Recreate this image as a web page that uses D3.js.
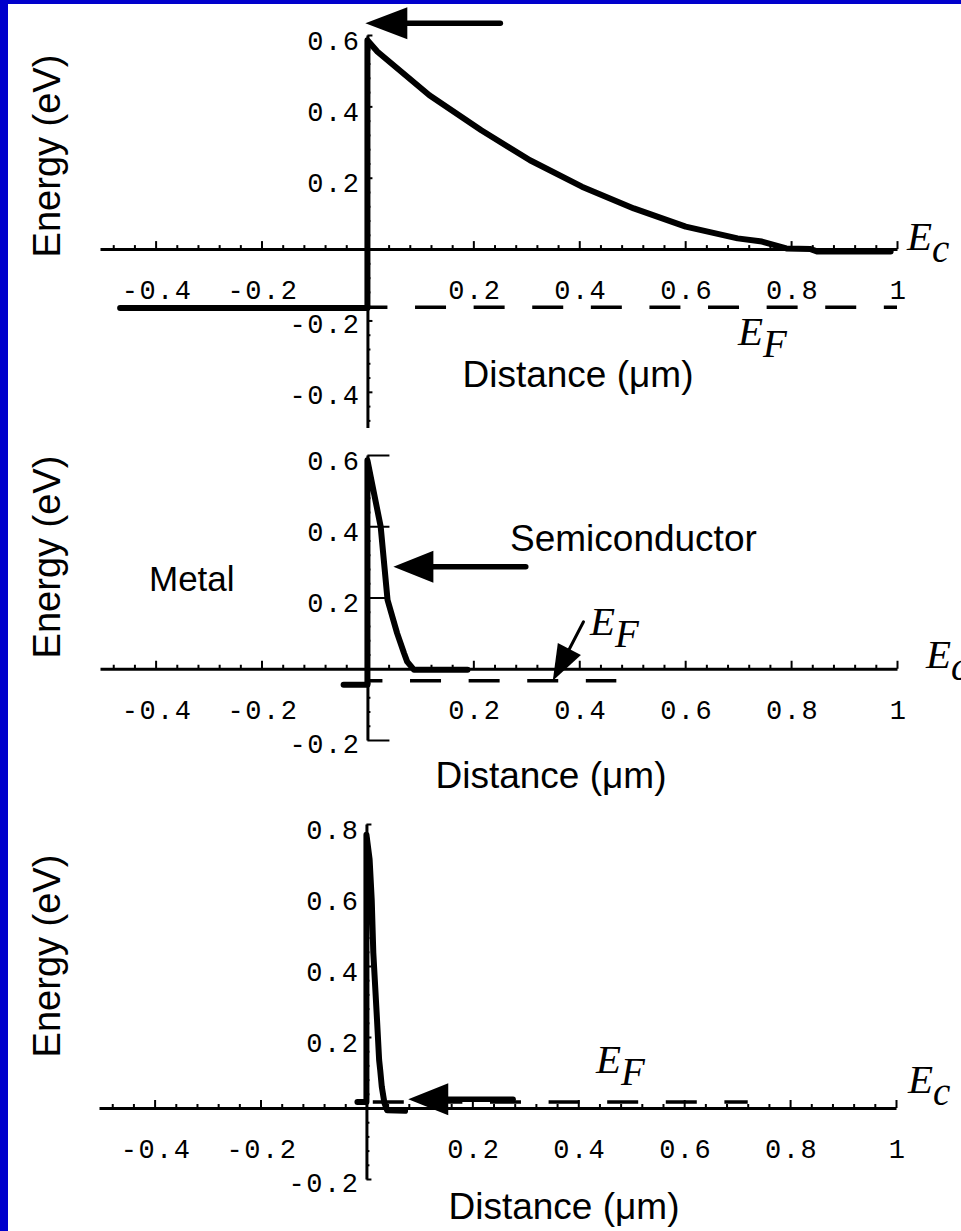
<!DOCTYPE html>
<html><head><meta charset="utf-8">
<script src="https://cdn.jsdelivr.net/npm/d3@7"></script>
<style>body{margin:0;background:#fff;}svg{display:block;}</style>
</head><body>
<svg id="c" width="961" height="1231"></svg>
<script>
// ---------------- data ----------------
const xTickValues = [-0.4, -0.2, 0.2, 0.4, 0.6, 0.8, 1];
const xTickLabels = ["-0.4", "-0.2", "0.2", "0.4", "0.6", "0.8", "1"];

const yTicks1 = [0.6, 0.4, 0.2, -0.2, -0.4];
const yTickLabels1 = ["0.6", "0.4", "0.2", "-0.2", "-0.4"];
const yTicks2 = [0.6, 0.4, 0.2, -0.2];
const yTickLabels2 = ["0.6", "0.4", "0.2", "-0.2"];
const yTicks3 = [0.8, 0.6, 0.4, 0.2, -0.2];
const yTickLabels3 = ["0.8", "0.6", "0.4", "0.2", "-0.2"];

// conduction band (metal Fermi level -> barrier -> band bending)
const band1X = [-0.467, 0, 0, 0.019, 0.117, 0.215, 0.307, 0.405, 0.503, 0.601, 0.699, 0.745, 0.791, 0.837, 0.850, 0.988];
const band1Y = [-0.165, -0.165, 0.585, 0.553, 0.431, 0.333, 0.249, 0.175, 0.114, 0.063, 0.030, 0.021, 0.002, 0.000, -0.007, -0.007];
const fermi1X = [0, 1.0];
const fermi1Y = [-0.163, -0.163];

const band2X = [-0.045, 0, 0, 0.025, 0.038, 0.056, 0.069, 0.075, 0.088, 0.189];
const band2Y = [-0.045, -0.045, 0.585, 0.399, 0.193, 0.100, 0.044, 0.020, -0.003, -0.003];
const fermi2X = [0, 0.47];
const fermi2Y = [-0.034, -0.034];

const band3X = [-0.017, 0, 0, 0.006, 0.010, 0.013, 0.020, 0.024, 0.026, 0.029, 0.034, 0.039, 0.073];
const band3Y = [0.017, 0.017, 0.770, 0.700, 0.586, 0.437, 0.248, 0.135, 0.107, 0.060, 0.014, -0.006, -0.008];
const fermi3X = [0.012, 0.72];
const fermi3Y = [0.017, 0.017];

// annotation arrows: [tailX, tailY, tipX, tipY] in data units
const arrow1 = [0.251, 0.633, -0.004, 0.633];
const arrowSemi = [0.299, 0.286, 0.049, 0.286];
const arrowEF2 = [0.408, 0.132, 0.350, -0.034];
const arrow3 = [0.277, 0.025, 0.079, 0.025];

// ---------------- layout ----------------
const svg = d3.select("#c");
svg.append("rect").attr("x", 0).attr("y", 0).attr("width", 961).attr("height", 1231).attr("fill", "#fff");

const MONO = "'Liberation Mono','Courier New',monospace";
const SANS = "Arial,'Liberation Sans',Helvetica,sans-serif";
const SERIF = "'Liberation Serif','Times New Roman',serif";

const panels = [
  { xRange: [100, 897], yDomain: [-0.5, 0.6], yRange: [427.5, 35], yTicks: yTicks1, yLabels: yTickLabels1, yMajorLen: 5,
    bandX: band1X, bandY: band1Y, fX: fermi1X, fY: fermi1Y, dashOffset: 11,
    arrows: [{ a: arrow1, lw: 5.5, hl: 42, hw: 16 }] },
  { xRange: [100, 897], yDomain: [-0.2, 0.6], yRange: [740, 455], yTicks: yTicks2, yLabels: yTickLabels2, yMajorLen: 22,
    bandX: band2X, bandY: band2Y, fX: fermi2X, fY: fermi2Y, dashOffset: 16,
    arrows: [{ a: arrowSemi, lw: 5.5, hl: 40, hw: 16 }, { a: arrowEF2, lw: 3, hl: 36, hw: 13 }] },
  { xRange: [99, 896], yDomain: [-0.2, 0.8], yRange: [1179, 824], yTicks: yTicks3, yLabels: yTickLabels3, yMajorLen: 5,
    bandX: band3X, bandY: band3Y, fX: fermi3X, fY: fermi3Y, dashOffset: 0,
    arrows: [{ a: arrow3, lw: 5.5, hl: 40, hw: 16 }] }
];

function drawArrow(g, x, y, spec) {
  const [ax, ay, bx, by] = spec.a;
  const x1 = x(ax), y1 = y(ay), x2 = x(bx), y2 = y(by);
  const dx = x2 - x1, dy = y2 - y1, L = Math.hypot(dx, dy), ux = dx / L, uy = dy / L;
  const cx = x2 - ux * spec.hl, cy = y2 - uy * spec.hl;
  g.append("line").attr("x1", x1).attr("y1", y1).attr("x2", cx + ux * 4).attr("y2", cy + uy * 4)
    .attr("stroke", "#000").attr("stroke-width", spec.lw).attr("stroke-linecap", "round");
  g.append("path")
    .attr("d", `M${x2},${y2}L${cx - uy * spec.hw},${cy + ux * spec.hw}L${cx + uy * spec.hw},${cy - ux * spec.hw}Z`)
    .attr("fill", "#000");
}

panels.forEach(p => {
  const x = d3.scaleLinear().domain([-0.505, 1.0]).range(p.xRange);
  const y = d3.scaleLinear().domain(p.yDomain).range(p.yRange);
  const g = svg.append("g");

  // minor ticks
  const xMinor = d3.range(-0.48, 1.0001, 0.04).filter(v => Math.abs(v / 0.2 - Math.round(v / 0.2)) > 1e-6);
  const yMinor = d3.range(-0.48, 0.8001, 0.04).filter(v => v >= p.yDomain[0] - 1e-9 && v <= p.yDomain[1] + 1e-9 &&
    Math.abs(v / 0.2 - Math.round(v / 0.2)) > 1e-6);

  // x axis
  const gx = g.append("g").attr("transform", `translate(0,${y(0)})`);
  gx.append("g").call(d3.axisTop(x).tickValues(xMinor).tickSize(4).tickSizeOuter(0).tickFormat(""))
    .call(s => s.select(".domain").remove());
  gx.append("g").call(d3.axisTop(x).tickValues(xTickValues).tickSize(8).tickSizeOuter(0).tickFormat(""))
    .call(s => s.select(".domain").attr("stroke-width", 3));
  gx.selectAll(".tick line").attr("stroke-width", 2);
  gx.append("g").call(d3.axisBottom(x).tickValues(xTickValues).tickSize(0)
      .tickFormat((d, i) => xTickLabels[i]))
    .call(s => s.select(".domain").remove())
    .attr("font-family", MONO).attr("font-size", 27)
    .selectAll("text").attr("dy", null).attr("y", 50).attr("dx", 1)
    .attr("letter-spacing", 1.5).attr("fill", "#000");

  // y axis
  const gy = g.append("g").attr("transform", `translate(${x(0)},0)`);
  gy.append("g").call(d3.axisRight(y).tickValues(yMinor).tickSize(3).tickSizeOuter(0).tickFormat(""))
    .call(s => s.select(".domain").remove());
  gy.append("g").call(d3.axisRight(y).tickValues(p.yTicks).tickSize(p.yMajorLen).tickSizeOuter(0).tickFormat(""))
    .call(s => s.select(".domain").attr("stroke-width", 3));
  gy.selectAll(".tick line").attr("stroke-width", 2);
  gy.append("g").call(d3.axisLeft(y).tickValues(p.yTicks).tickSize(0)
      .tickFormat((d, i) => p.yLabels[i]))
    .call(s => s.select(".domain").remove())
    .attr("font-family", MONO).attr("font-size", 27)
    .selectAll("text").attr("dy", null).attr("x", -7).attr("y", d => d < 0 ? 12 : 14)
    .attr("letter-spacing", 1.5).attr("fill", "#000");

  // Fermi level (dashed)
  const line = d3.line().x(d => x(d[0])).y(d => y(d[1]));
  g.append("path").datum(p.fX.map((v, i) => [v, p.fY[i]])).attr("d", line)
    .attr("fill", "none").attr("stroke", "#000").attr("stroke-width", 3.5)
    .attr("stroke-dasharray", "31 27.6").attr("stroke-dashoffset", p.dashOffset);

  // conduction band
  g.append("path").datum(p.bandX.map((v, i) => [v, p.bandY[i]])).attr("d", line)
    .attr("fill", "none").attr("stroke", "#000").attr("stroke-width", 6)
    .attr("stroke-linejoin", "round").attr("stroke-linecap", "round");

  p.arrows.forEach(a => drawArrow(g, x, y, a));
});

// ---------------- texts ----------------
const energyLabels = [[60, 156], [60, 557], [60, 956]];
energyLabels.forEach(([tx, ty]) => {
  svg.append("text").attr("transform", `translate(${tx},${ty}) rotate(-90)`)
    .attr("text-anchor", "middle").attr("font-family", SANS).attr("font-size", 38).text("Energy (eV)");
});
const distLabels = [[578, 387], [551, 788], [564, 1219]];
distLabels.forEach(([tx, ty]) => {
  svg.append("text").attr("x", tx).attr("y", ty).attr("text-anchor", "middle")
    .attr("font-family", SANS).attr("font-size", 37).text("Distance (\u03bcm)");
});
svg.append("text").attr("x", 149).attr("y", 591)
  .attr("font-family", SANS).attr("font-size", 35).text("Metal");
svg.append("text").attr("x", 510).attr("y", 551)
  .attr("font-family", SANS).attr("font-size", 37).text("Semiconductor");

const eLabels = [
  { sub: "c", x: 907, y: 250 }, { sub: "F", x: 738, y: 345 },
  { sub: "c", x: 926, y: 668 }, { sub: "F", x: 590, y: 635 },
  { sub: "F", x: 596, y: 1073 }, { sub: "c", x: 908, y: 1093 }
];
eLabels.forEach(l => {
  const t = svg.append("text").attr("x", l.x).attr("y", l.y).attr("font-family", SERIF)
    .attr("font-style", "italic").attr("font-size", 41);
  t.append("tspan").text("E");
  t.append("tspan").attr("dy", 12).attr("font-size", 39).text(l.sub);
});

// blue frame
svg.append("rect").attr("x", 0).attr("y", 0).attr("width", 8).attr("height", 1231).attr("fill", "#0000cc");
svg.append("rect").attr("x", 0).attr("y", 0).attr("width", 961).attr("height", 4).attr("fill", "#0000cc");
</script>
</body></html>
